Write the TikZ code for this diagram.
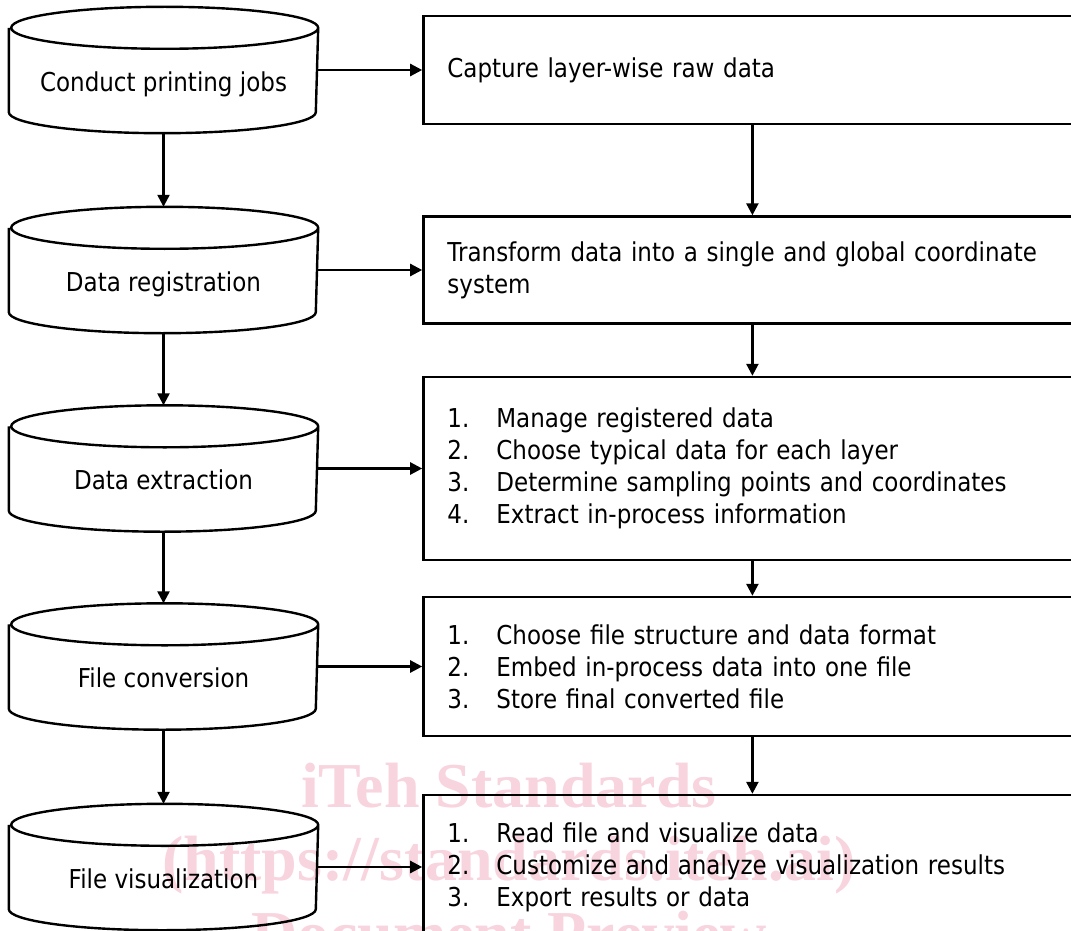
\documentclass[tikz,border=0pt]{standalone}
\usepackage{fontspec}
\setmainfont{DejaVu Sans}[FakeStretch=0.885]
\newfontfamily\wmfont{Liberation Serif}
\usetikzlibrary{arrows.meta, positioning}

\definecolor{wmpink}{RGB}{248,212,222}
\newcommand{\itm}[2]{\makebox[24.5pt][l]{#1}#2}

\begin{document}
\begin{tikzpicture}[
  x=0.5pt, y=-0.5pt,
  font=\fontsize{13}{16}\selectfont,
  cyl/.style={
    minimum width=153.5pt,
    minimum height=62pt,
    inner sep=0pt,
    outer sep=0.6pt,
    text height=24.4pt,
    text depth=3pt
  },
  cylline/.style={draw, line width=1.2pt},
  stepbox/.style={
    draw,
    line width=1.2pt,
    minimum height=#1,
    text width=305pt,
    inner xsep=12pt,
    align=left
  },
  arr/.style={-{Triangle[length=6pt,width=6pt]}, line width=1.2pt},
  wm/.style={text=wmpink, font=\wmfont\bfseries\fontsize{32}{32}\selectfont}
]
\useasboundingbox (0,0) rectangle (1071,931);
\clip (0,0) rectangle (1071,931);

% watermark, behind the chart
\node[wm, anchor=base] (wm1) at (509,807) {iTeh Standards};
\node[wm, anchor=base] (wm2) at (509,880) {(https://standards.iteh.ai)};
\node[wm, anchor=base] (wm3) at (509,955) {Document Preview};

\node[cyl] (jobs) at (163.5,70) {Conduct printing jobs};
\node[cyl] (reg) at (163.5,270) {Data registration};
\node[cyl] (extr) at (163.5,468.5) {Data extraction};
\node[cyl] (conv) at (163.5,666.5) {File conversion};
\node[cyl] (vis) at (163.5,867) {File visualization};

% cylinder outlines round the left nodes
\foreach \n in {jobs,reg,extr,conv,vis}
  \draw[cylline] ([yshift=-10.5pt]\n.north west) -- ([yshift=10.5pt]\n.south west)
    arc[start angle=180, end angle=360, x radius=76.75pt, y radius=10.5pt]
    -- ([yshift=-10.5pt]\n.north east)
    arc[start angle=0, end angle=360, x radius=76.75pt, y radius=10.5pt];

\node[stepbox=54pt, right=52pt of jobs] (capture) {Capture layer-wise raw data};
\node[stepbox=53.5pt, right=52pt of reg] (transform) {Transform data into a single and global coordinate\\system};
\node[stepbox=91.5pt, right=52pt of extr] (manage) {%
  \itm{1.}{Manage registered data}\\
  \itm{2.}{Choose typical data for each layer}\\
  \itm{3.}{Determine sampling points and coordinates}\\
  \itm{4.}{Extract in-process information}};
\node[stepbox=69.5pt, right=52pt of conv] (store) {%
  \itm{1.}{Choose file structure and data format}\\
  \itm{2.}{Embed in-process data into one file}\\
  \itm{3.}{Store final converted file}};
\node[stepbox=72pt, right=52pt of vis] (read) {%
  \itm{1.}{Read file and visualize data}\\
  \itm{2.}{Customize and analyze visualization results}\\
  \itm{3.}{Export results or data}};

% left column
\draw[arr] (jobs.south) -- (reg.north);
\draw[arr] (reg.south) -- (extr.north);
\draw[arr] (extr.south) -- (conv.north);
\draw[arr] (conv.south) -- (vis.north);

% across
\draw[arr] (jobs.east) -- (capture.west);
\draw[arr] (reg.east) -- (transform.west);
\draw[arr] (extr.east) -- (manage.west);
\draw[arr] (conv.east) -- (store.west);
\draw[arr] (vis.east) -- (read.west);

% right column
\draw[arr] (capture.south) -- (transform.north);
\draw[arr] (transform.south) -- (manage.north);
\draw[arr] (manage.south) -- (store.north);
\draw[arr] (store.south) -- (read.north);

\end{tikzpicture}
\end{document}
